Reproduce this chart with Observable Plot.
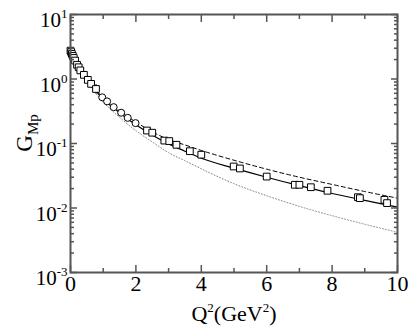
<!DOCTYPE html>
<html><head><meta charset="utf-8">
<script src="https://cdn.jsdelivr.net/npm/d3@7"></script>
<script src="https://cdn.jsdelivr.net/npm/@observablehq/plot@0.6"></script>
<style>body{margin:0;background:#fff} svg{display:block}</style>
</head><body><div id="chart"></div>
<script>
const FONT = "'Liberation Serif', 'Times New Roman', Times, 'DejaVu Serif', serif";
// Model curves (Q^2 in GeV^2, G_Mp)
const curveQ2 = [0,0.1,0.25,0.5,0.75,1,1.5,2,2.5,3,3.5,4,5,6,7,8,9,10];
const solidG  = [2.79,2.20,1.56,0.97,0.67,0.49,0.30,0.195,0.135,0.098,0.076,0.059,0.0415,0.0300,0.0222,0.0168,0.0131,0.0103];
const dashedG = [2.79,2.22,1.59,1.00,0.70,0.51,0.32,0.215,0.152,0.115,0.095,0.078,0.055,0.040,0.030,0.0232,0.0180,0.0142];
const dottedG = [2.79,2.16,1.50,0.92,0.62,0.44,0.255,0.158,0.106,0.072,0.054,0.0405,0.0238,0.0155,0.0106,0.0076,0.0056,0.0042];

// Data: squares
const sqQ2  = [0.0,0.02,0.04,0.07,0.1,0.14,0.2,0.25,0.3,0.41,0.53,0.63,0.78,2.34,2.5,2.87,3.02,3.24,3.65,4.0,4.99,5.18,6.0,6.86,7.0,7.35,7.86,8.79,8.85,9.6,9.68];
const sqG   = [2.75,2.62,2.45,2.28,2.12,1.93,1.66,1.52,1.36,1.16,0.97,0.84,0.70,0.159,0.147,0.111,0.109,0.0955,0.076,0.067,0.044,0.041,0.0307,0.0229,0.0229,0.021,0.0185,0.0147,0.0142,0.0134,0.0119];
const sqErr = [0.12,0.10,0.09,0.08,0.07,0.06,0.05,0.05,0.04,0.04,0.04,0.05,0.12,0.006,0.006,0.005,0.005,0.004,0.003,0.003,0.002,0.002,0.0015,0.0012,0.0012,0.001,0.001,0.0009,0.0009,0.0016,0.0014];
// Data: circles
const ciQ2  = [0.97,1.12,1.32,1.55,1.75,1.99];
const ciG   = [0.52,0.45,0.366,0.30,0.25,0.207];
const ciErr = [0.015,0.013,0.010,0.008,0.007,0.006];

// Axis ticks
const xMajor = [0,2,4,6,8,10];
const xMinor = [1,3,5,7,9];
const yDecades = [1e-3,1e-2,1e-1,1,10];
const yMinor = [];
for (const d of [1e-3,1e-2,1e-1,1]) for (let k=2;k<=9;k++) yMinor.push(d*k);

const curves = curveQ2.map((q,i)=>({q, solid: solidG[i], dashed: dashedG[i], dotted: dottedG[i]}));
const squares = sqQ2.map((q,i)=>({q, g: sqG[i], lo: sqG[i]-sqErr[i], hi: sqG[i]+sqErr[i]}));
const circles = ciQ2.map((q,i)=>({q, g: ciG[i], lo: ciG[i]-ciErr[i], hi: ciG[i]+ciErr[i]}));
const allPts = squares.concat(circles);

const axisColor = "#555";
const plot = Plot.plot({
  width: 409, height: 327,
  marginLeft: 70, marginRight: 12, marginTop: 14, marginBottom: 55,
  style: {background: "white", color: "black", fontFamily: FONT},
  x: {domain: [0,10], label: null},
  y: {type: "log", domain: [1e-3, 10], label: null},
  marks: [
    Plot.line(curves, {x: "q", y: "dotted", stroke: "#888", strokeWidth: 1, strokeDasharray: "1,2", curve: "monotone-x"}),
    Plot.line(curves, {x: "q", y: "dashed", stroke: "black", strokeWidth: 1, strokeDasharray: "4,3", curve: "monotone-x"}),
    Plot.line(curves, {x: "q", y: "solid", stroke: "black", strokeWidth: 1.2, curve: "monotone-x"}),
    Plot.ruleX(allPts, {x: "q", y1: "lo", y2: "hi", stroke: "black", strokeWidth: 1}),
    Plot.dot(squares, {x: "q", y: "g", symbol: "square", r: 3.8, stroke: "black", strokeWidth: 1, fill: "white"}),
    Plot.dot(circles, {x: "q", y: "g", r: 3.5, stroke: "black", strokeWidth: 1, fill: "white"}),
    Plot.frame({stroke: axisColor, strokeWidth: 2}),
    // inward ticks
    Plot.axisX(xMajor, {anchor: "bottom", tickSize: -7, tickFormat: () => "", stroke: axisColor, strokeWidth: 1.5, label: null}),
    Plot.axisX(xMinor, {anchor: "bottom", tickSize: -4, tickFormat: () => "", stroke: axisColor, strokeWidth: 1.5, label: null}),
    Plot.axisX(xMajor, {anchor: "top", tickSize: -7, tickFormat: () => "", stroke: axisColor, strokeWidth: 1.5, label: null}),
    Plot.axisX(xMinor, {anchor: "top", tickSize: -4, tickFormat: () => "", stroke: axisColor, strokeWidth: 1.5, label: null}),
    Plot.axisY(yDecades, {anchor: "left", tickSize: -7, tickFormat: () => "", stroke: axisColor, strokeWidth: 1.5, label: null}),
    Plot.axisY(yMinor, {anchor: "left", tickSize: -4, tickFormat: () => "", stroke: axisColor, strokeWidth: 1.5, label: null}),
    Plot.axisY(yDecades, {anchor: "right", tickSize: -7, tickFormat: () => "", stroke: axisColor, strokeWidth: 1.5, label: null}),
    Plot.axisY(yMinor, {anchor: "right", tickSize: -4, tickFormat: () => "", stroke: axisColor, strokeWidth: 1.5, label: null}),
    // labels
    Plot.axisX(xMajor, {anchor: "bottom", tickSize: 0, tickPadding: 3, fontSize: 22, tickFormat: d => String(d), label: null}),
    Plot.axisY(yDecades, {anchor: "left", tickSize: 0, tickPadding: 3, fontSize: 21, dy: 6, tickFormat: d => String(Math.round(Math.log10(d))), label: null})
  ]
});

const svg = d3.select(plot);
svg.attr("font-family", FONT);
svg.selectAll('g[aria-label="y-axis tick label"] text').each(function(){
  const t = d3.select(this);
  const e = t.text();
  if (!e) return;
  t.text("10");
  t.append("tspan").attr("dy", -9).attr("font-size", 13).text(e.replace("\u2212","-"));
});

const xl = svg.append("text").attr("x", 234).attr("y", 321).attr("text-anchor", "middle")
  .attr("font-size", 22).attr("fill", "black");
xl.append("tspan").text("Q");
xl.append("tspan").attr("dy", -9).attr("font-size", 13).text("2");
xl.append("tspan").attr("dy", 9).text("(GeV");
xl.append("tspan").attr("dy", -9).attr("font-size", 13).text("2");
xl.append("tspan").attr("dy", 9).text(")");

const yl = svg.append("text").attr("transform", "translate(32,133) rotate(-90)").attr("text-anchor", "middle")
  .attr("font-size", 23).attr("fill", "black");
yl.append("tspan").text("G");
yl.append("tspan").attr("dy", 6).attr("font-size", 15).text("Mp");

svg.selectAll("text").style("font-family", FONT);
document.getElementById("chart").appendChild(plot);
</script>
</body></html>
